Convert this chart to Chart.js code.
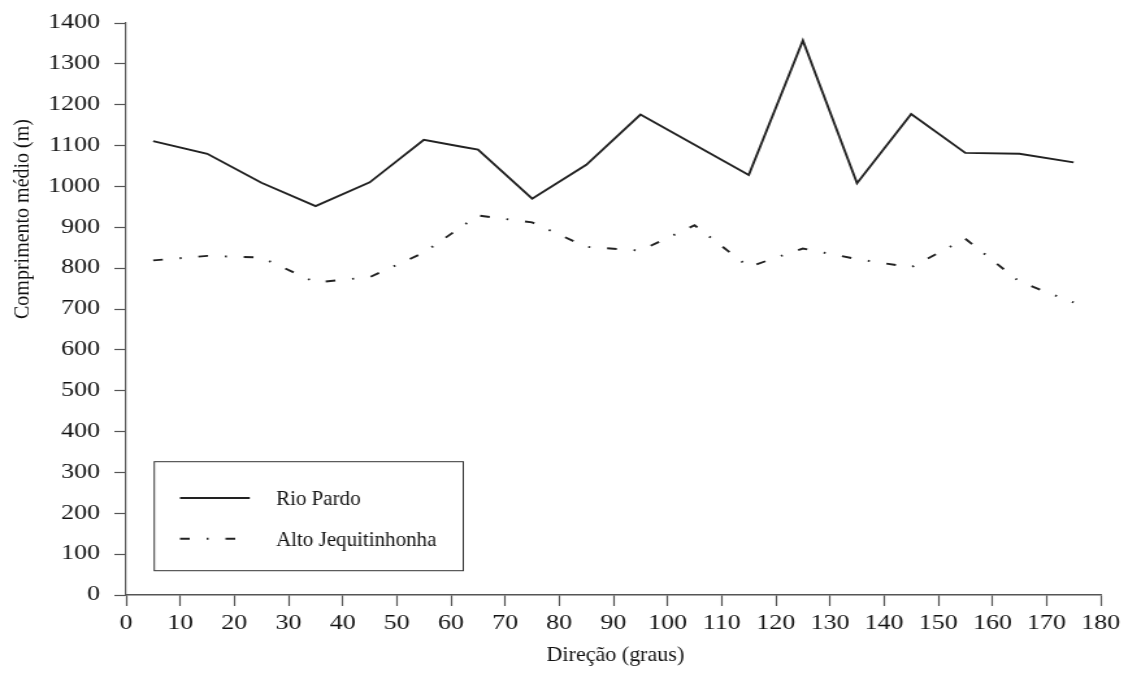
<!DOCTYPE html>
<html>
<head>
<meta charset="utf-8">
<script src="https://cdn.jsdelivr.net/npm/chart.js@4.4.1/dist/chart.umd.min.js"></script>
<style>
  html, body { margin: 0; padding: 0; background: #fff; overflow: hidden; }
  /* chart is laid out narrow and stretched sideways, like the printed figure */
  #wrap { width: 868px; height: 673px; transform: scaleX(1.2995); transform-origin: 0 0; }
</style>
</head>
<body>
<div id="wrap"><canvas id="chart-canvas" width="868" height="673"></canvas></div>
<script>
// direction bins (graus) and mean lengths (m)
const rioDirs   = [5, 15, 25, 35, 45, 55, 62, 65, 75, 85, 95, 105, 115, 125, 135, 145, 155, 165, 175];
const rioPardo  = [1111, 1080, 1009, 952, 1010, 1114, 1097, 1090, 970, 1053, 1176, 1102, 1028, 1357, 1008, 1177, 1082, 1080, 1059];
const altoDirs  = [5, 15, 25, 35, 45, 55, 65, 75, 85, 95, 105, 115, 125, 135, 145, 155, 165, 175];
const altoJeq   = [819, 830, 826, 765, 778, 838, 929, 912, 852, 843, 905, 803, 848, 822, 802, 872, 767, 716];
const seriesNames = ["Rio Pardo", "Alto Jequitinhonha"];

const xTicks = { min: 0, max: 180, step: 10 };
const yTicks = { min: 0, max: 1400, step: 100 };

const STRETCH = 1.2995;   // must match the css scaleX
const serif = "'Liberation Serif', 'Times New Roman', serif";
const ink = "#111";
const lineCol = "#222";
const axisCol = "#555";

function toPoints(xs, ys) {
  return xs.map((x, i) => ({ x: x, y: ys[i] }));
}

// text given in page pixels, drawn unstretched (h = wanted horizontal scale)
function putText(ctx, text, px, y, size, h, align, base, rot) {
  ctx.save();
  ctx.translate(px / STRETCH, y);
  ctx.scale(h / STRETCH, 1);
  if (rot) ctx.rotate(rot);
  ctx.font = size + "px " + serif;
  ctx.fillStyle = ink;
  ctx.textAlign = align;
  ctx.textBaseline = base;
  ctx.fillText(text, 0, 0);
  ctx.restore();
}

// axis titles and boxed legend drawn by hand
const extras = {
  id: "extras",
  afterDraw(chart) {
    const ctx = chart.ctx;
    const area = chart.chartArea;
    putText(ctx, "Comprimento médio (m)", 23, 219, 20, 1.05, "center", "middle", -Math.PI / 2);
    putText(ctx, "Direção (graus)", (area.left + area.right) / 2 * STRETCH + 2, 655, 21, 1.05, "center", "middle");

    // legend box
    ctx.save();
    ctx.fillStyle = "#fff";
    ctx.fillRect(118.7, 461.7, 237.8, 109);
    ctx.strokeStyle = "#333";
    ctx.lineWidth = 1;
    ctx.strokeRect(118.7, 461.7, 237.8, 109);
    const rows = [498, 538.7];
    chart.data.datasets.forEach((ds, i) => {
      ctx.beginPath();
      ctx.setLineDash(ds.borderDash || []);
      ctx.lineWidth = ds.borderWidth;
      ctx.strokeStyle = ds.borderColor;
      ctx.moveTo(138.5, rows[i]);
      ctx.lineTo(192.2, rows[i]);
      ctx.stroke();
      ctx.setLineDash([]);
      putText(ctx, ds.label, 276, rows[i] + 7, 21, 1, "left", "alphabetic");
    });
    ctx.restore();
  }
};

const chart = new Chart(document.getElementById("chart-canvas"), {
  type: "line",
  data: {
    datasets: [
      {
        label: seriesNames[0],
        data: toPoints(rioDirs, rioPardo),
        borderColor: lineCol,
        borderWidth: 1.9,
        pointRadius: 0,
        tension: 0,
        fill: false
      },
      {
        label: seriesNames[1],
        data: toPoints(altoDirs, altoJeq),
        borderColor: lineCol,
        borderWidth: 1.9,
        borderDash: [7.5, 13, 1.5, 13],
        pointRadius: 0,
        tension: 0,
        fill: false
      }
    ]
  },
  options: {
    responsive: false,
    animation: false,
    devicePixelRatio: 1,
    layout: { padding: { top: 23, right: 21, left: 0, bottom: 0 } },
    plugins: {
      legend: { display: false },
      tooltip: { enabled: false }
    },
    scales: {
      x: {
        type: "linear",
        min: xTicks.min,
        max: xTicks.max,
        ticks: {
          stepSize: xTicks.step,
          autoSkip: false,
          maxRotation: 0,
          padding: 6,
          color: ink,
          font: { family: serif, size: 20 },
          callback: v => String(v)
        },
        grid: { drawOnChartArea: false, drawTicks: true, tickLength: 11, tickColor: axisCol, tickWidth: 1.2 },
        border: { display: true, color: axisCol, width: 1.4 },
        afterFit: s => { s.height = 78; }
      },
      y: {
        type: "linear",
        min: yTicks.min,
        max: yTicks.max,
        ticks: {
          stepSize: yTicks.step,
          padding: 11,
          color: ink,
          font: { family: serif, size: 20 },
          callback: v => String(v)
        },
        grid: { drawOnChartArea: false, drawTicks: true, tickLength: 9, tickColor: axisCol, tickWidth: 1.2 },
        border: { display: true, color: axisCol, width: 1.2 },
        afterFit: s => { s.width = 97; }
      }
    }
  },
  plugins: [extras]
});
</script>
</body>
</html>
